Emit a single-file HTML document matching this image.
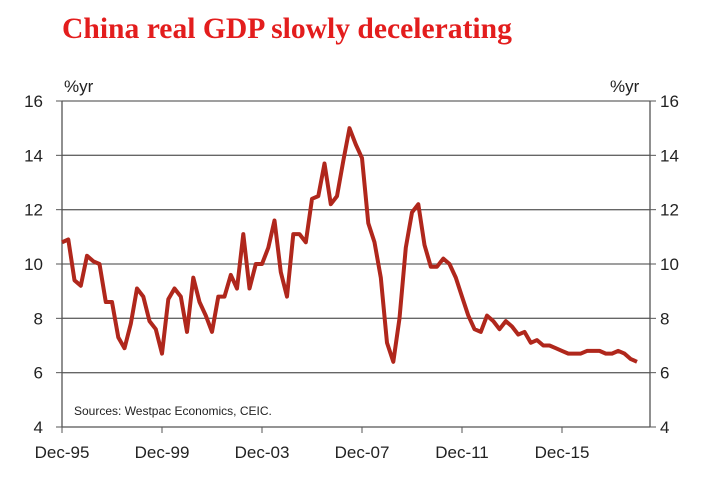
<!DOCTYPE html>
<html><head><meta charset="utf-8"><style>
body{margin:0;background:#fff;width:706px;height:482px;overflow:hidden}
svg text{font-family:"Liberation Sans",sans-serif}
</style></head><body>
<svg width="706" height="482">
<text x="62" y="38" font-family="Liberation Serif" font-weight="bold" font-size="29.6" fill="#e31d1d" style="font-family:'Liberation Serif',serif">China real GDP slowly decelerating</text>
<text x="64" y="92" font-size="17" fill="#222">%yr</text>
<text x="610" y="92" font-size="17" fill="#222">%yr</text>
<g id="grid"></g><g id="ticks"></g>
<path id="line" fill="none" stroke="#b0271c" stroke-width="4" stroke-linejoin="round"/>
<text x="74" y="415" font-size="12" fill="#222">Sources: Westpac Economics, CEIC.</text>
</svg>
<script>
const yTicks=[4,6,8,10,12,14,16];
const xLabels=["Dec-95","Dec-99","Dec-03","Dec-07","Dec-11","Dec-15"];
const xLabelIdx=[0,16,32,48,64,80];
const gdp=[10.8,10.9,9.4,9.2,10.3,10.1,10.0,8.6,8.6,7.3,6.9,7.8,9.1,8.8,7.9,7.6,6.7,8.7,9.1,8.8,7.5,9.5,8.6,8.1,7.5,8.8,8.8,9.6,9.1,11.1,9.1,10.0,10.0,10.6,11.6,9.7,8.8,11.1,11.1,10.8,12.4,12.5,13.7,12.2,12.5,13.8,15.0,14.4,13.9,11.5,10.8,9.5,7.1,6.4,8.0,10.6,11.9,12.2,10.7,9.9,9.9,10.2,10.0,9.5,8.8,8.1,7.6,7.5,8.1,7.9,7.6,7.9,7.7,7.4,7.5,7.1,7.2,7.0,7.0,6.9,6.8,6.7,6.7,6.7,6.8,6.8,6.8,6.7,6.7,6.8,6.7,6.5,6.4];
const X0=62,X1=650,Y4=427,Y16=101;
const xs=i=>X0+i*6.25;
const ys=v=>Y4-(v-4)*(Y4-Y16)/12;
const NS="http://www.w3.org/2000/svg";
const g=document.getElementById('grid'),t=document.getElementById('ticks');
function mk(tag,a,p){const e=document.createElementNS(NS,tag);for(const k in a)e.setAttribute(k,a[k]);p.appendChild(e);return e;}
yTicks.forEach(v=>{
 const y=ys(v);
 const l=mk('line',{x1:X0,x2:X1,y1:y,y2:y,stroke:v==4?'#555':'#666','stroke-width':1.3},g);
 
 
 mk('line',{x1:X0-6,x2:X0,y1:y,y2:y,stroke:'#555'},g);
 mk('line',{x1:X1,x2:X1+6,y1:y,y2:y,stroke:'#555'},g);
 const a=mk('text',{x:43,y:y+6,'text-anchor':'end','font-size':17,fill:'#222'},t);a.textContent=v;
 
 
 const b=mk('text',{x:660,y:y+6,'font-size':17,fill:'#222'},t);b.textContent=v;
 
 
});
mk('line',{x1:X0,x2:X0,y1:Y16,y2:Y4,stroke:'#555','stroke-width':1.3},g);
mk('line',{x1:X1,x2:X1,y1:Y16,y2:Y4,stroke:'#555','stroke-width':1.3},g);
xLabels.forEach((s,k)=>{
 const x=xs(xLabelIdx[k]);
 mk('line',{x1:x,x2:x,y1:Y4,y2:Y4+6,stroke:'#555'},g);
 const e=mk('text',{x:x,y:458,'text-anchor':'middle','font-size':17,fill:'#222'},t);e.textContent=s;
 
 
});
document.getElementById('line').setAttribute('d',gdp.map((v,i)=>(i?'L':'M')+xs(i).toFixed(1)+','+ys(v).toFixed(1)).join(''));
</script>
</body></html>
